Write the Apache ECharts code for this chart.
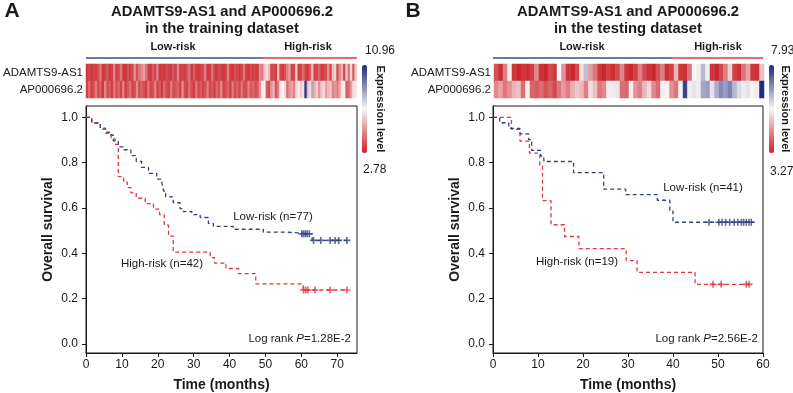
<!DOCTYPE html>
<html>
<head>
<meta charset="utf-8">
<script src="https://cdn.jsdelivr.net/npm/echarts@6/dist/echarts.min.js"></script>
<style>
  html, body { margin: 0; padding: 0; background: #fff; }
  #main { width: 793px; height: 393px; }
</style>
</head>
<body>
<div id="main"></div>
<script>
// ---- data ----
var geneNames = ['ADAMTS9-AS1', 'AP000696.2'];
var survTicks = [0, 0.2, 0.4, 0.6, 0.8, 1.0];
var timeTicksA = [0, 10, 20, 30, 40, 50, 60, 70];
var timeTicksB = [0, 10, 20, 30, 40, 50, 60];

// training dataset (A): 77 low-risk + 42 high-risk
var nLowA = 77, nHighA = 42;
var rangeA = [2.78, 10.96];
var pValueA = '1.28E-2';
var adamtsA = [
  3.2, 3.4, 3.1, 3.5, 3.3, 3.6, 4.5, 3.2, 3.3, 3.8, 3.2, 3.4, 4.6, 3.3, 3.6, 4.4, 3.2, 3.1, 3.7, 3.3,
  3.5, 5.0, 3.7, 4.3, 4.7, 5.2, 4.4, 3.3, 3.2, 3.9, 3.4, 4.6, 3.2, 3.3, 3.1, 3.6, 3.4, 3.2, 3.8, 3.3,
  4.8, 3.2, 3.5, 3.3, 3.7, 4.4, 3.2, 3.9, 3.3, 3.1, 3.4, 3.6, 4.6, 3.2, 3.3, 4.3, 3.4, 3.2, 3.6, 3.3,
  3.1, 3.5, 4.6, 3.3, 3.2, 3.7, 3.4, 3.2, 3.5, 4.4, 3.3, 3.2, 3.6, 3.3, 3.4, 3.2, 4.9,
  4.4, 5.9, 6.4, 5.6, 3.4, 3.6, 3.3, 5.8, 3.5, 3.3, 3.7, 4.6, 5.2, 3.4, 3.6, 6.0, 3.3, 3.5, 4.2, 3.4,
  3.2, 3.8, 5.7, 3.3, 3.5, 4.0, 3.2, 3.4, 3.6, 4.9, 3.5, 5.8, 6.2, 3.6, 4.8, 5.5, 3.5, 5.9, 4.4, 6.3,
  3.9, 6.1
];
var apA = [
  3.4, 4.2, 3.3, 3.7, 4.5, 3.5, 4.0, 3.2, 4.7, 3.6, 3.9, 3.3, 4.4, 3.6, 4.1, 3.4, 4.6, 3.3, 3.8, 4.3,
  3.4, 3.6, 4.8, 3.5, 4.0, 3.7, 3.3, 4.4, 3.5, 3.6, 4.6, 3.4, 3.9, 3.3, 4.2, 3.6, 3.4, 4.5, 3.5, 3.8,
  4.1, 3.3, 4.9, 3.6, 3.4, 4.3, 3.7, 3.3, 4.4, 3.5, 3.9, 3.4, 3.6, 4.6, 3.5, 3.8, 3.3, 4.2, 3.6, 4.7,
  3.4, 3.7, 4.1, 3.3, 4.5, 3.6, 4.0, 3.4, 4.4, 3.6, 3.5, 4.6, 3.8, 4.1, 3.6, 3.9, 5.0,
  6.6, 6.8, 4.0, 3.6, 5.0, 5.6, 3.8, 4.5, 6.5, 6.9, 6.3, 4.2, 4.9, 5.3, 4.6, 6.2, 6.7, 6.0, 6.5, 10.7,
  5.8, 6.4, 8.4, 5.5, 6.1, 4.9, 5.9, 6.4, 5.2, 5.6, 6.0, 4.7, 5.0, 4.6, 5.3, 6.5, 6.7, 3.9, 4.2, 5.1,
  6.3, 6.6
];
var kmLowA = [
  [0, 1], [1.6, 0.974], [4, 0.948], [5.5, 0.935], [6.5, 0.922], [7.6, 0.896], [9, 0.87], [10.5, 0.857],
  [12.5, 0.831], [14, 0.805], [15.5, 0.779], [17.4, 0.753], [19.7, 0.727], [21.1, 0.714], [21.6, 0.675],
  [22.2, 0.649], [24.3, 0.623], [26.2, 0.597], [27.1, 0.584], [29.5, 0.571], [31.8, 0.558], [34.1, 0.532],
  [35.5, 0.519], [41, 0.506], [49.4, 0.493], [56, 0.486], [63, 0.457], [72.7, 0.457]
];
var kmHighA = [
  [0, 1], [1.6, 0.976], [4, 0.952], [5.5, 0.929], [7, 0.905], [8.1, 0.881], [9, 0.738], [10.5, 0.714],
  [11.5, 0.69], [12.5, 0.667], [14, 0.643], [16.5, 0.619], [18.8, 0.595], [20.5, 0.571], [21.8, 0.524],
  [23, 0.476], [24.3, 0.405], [34.6, 0.381], [35.8, 0.357], [39, 0.333], [42.5, 0.31], [47.3, 0.265],
  [60.5, 0.238], [72.7, 0.238]
];
var censLowA = [
  [60.1, 0.486], [60.6, 0.486], [61.1, 0.486], [61.6, 0.486], [62.2, 0.486],
  [63.4, 0.457], [65.4, 0.457], [68, 0.457], [69.4, 0.457], [70.4, 0.457], [72.7, 0.457]
];
var censHighA = [[60.6, 0.238], [61.2, 0.238], [61.8, 0.238], [63.8, 0.238], [68, 0.238], [72.7, 0.238]];

// testing dataset (B): 41 low-risk + 19 high-risk
var nLowB = 41, nHighB = 19;
var rangeB = [3.27, 7.93];
var pValueB = '2.56E-2';
var adamtsB = [
  3.8, 3.4, 4.3, 5.5, 3.5, 3.3, 3.5, 3.4, 3.6, 4.4, 3.4, 3.3, 3.7, 3.5, 5.6, 4.5, 3.5, 3.3, 3.7, 5.3,
  6.2, 4.6, 4.2, 3.5, 3.3, 3.6, 3.4, 3.7, 4.4, 3.5, 3.3, 3.6, 4.3, 3.7, 3.4, 3.3, 3.8, 4.3, 3.4, 3.6,
  4.9, 3.5, 3.4, 4.2, 5.6, 5.5, 6.3, 5.7, 3.5, 3.3, 3.7, 4.3, 5.2, 3.6, 3.4, 4.2, 4.7, 3.5, 3.4, 5.0
];
var apB = [
  4.4, 4.7, 4.2, 4.5, 4.9, 5.0, 4.1, 5.5, 4.0, 3.9, 4.1, 3.8, 4.0, 3.7, 4.2, 4.6, 4.3, 4.8, 5.1, 4.9,
  4.3, 5.3, 5.0, 4.2, 4.4, 5.5, 5.7, 5.4, 4.1, 4.0, 5.5, 4.5, 4.3, 4.9, 5.3, 4.4, 4.1, 5.5, 5.6, 4.5,
  4.2, 5.6, 7.6, 5.7, 5.8, 5.7, 6.5, 6.6, 5.8, 6.4, 6.8, 6.6, 6.9, 6.3, 5.9, 5.7, 5.8, 5.6, 5.7, 7.9
];
var kmLowB = [
  [0, 1], [1.5, 0.976], [3.5, 0.951], [6, 0.927], [7.9, 0.902], [8.6, 0.854], [10.6, 0.829],
  [11.3, 0.805], [17.9, 0.756], [24.6, 0.683], [29.5, 0.659], [36.5, 0.634], [39.3, 0.586],
  [40, 0.537], [58, 0.537]
];
var kmHighB = [
  [0, 1], [4.1, 0.947], [6, 0.895], [8.1, 0.842], [10.4, 0.789], [11, 0.632], [12.9, 0.526],
  [15.9, 0.474], [19.1, 0.421], [29.6, 0.368], [32, 0.316], [44.9, 0.263], [57, 0.263]
];
var censLowB = [
  [48, 0.537], [50.2, 0.537], [50.9, 0.537], [51.7, 0.537], [52.6, 0.537], [53.6, 0.537],
  [54.4, 0.537], [55.2, 0.537], [55.7, 0.537], [56.3, 0.537], [56.9, 0.537], [57.4, 0.537]
];
var censHighB = [[48.9, 0.263], [50.7, 0.263], [56.3, 0.263], [56.9, 0.263]];

// ---- helpers ----
var FONT = '"Liberation Sans", Arial, Helvetica, sans-serif';
var INK = '#1a1a1a';
var RED = '#e0393e';
var BLUE = '#34437f';
var PLUS = 'path://M2.7,0H4.3V2.7H7V4.3H4.3V7H2.7V4.3H0V2.7H2.7Z';

function heatData(rows) {
  var res = [];
  rows.forEach(function (row, j) {
    row.forEach(function (v, i) {
      res.push([i, j, v]);
    });
  });
  return res;
}

function ids(n) {
  var res = [];
  for (var i = 0; i < n; i++) res.push('P' + (i + 1));
  return res;
}

function kmAxes(idx, maxT, ticks) {
  var x = {
    type: 'value', gridIndex: idx, min: 0, max: maxT,
    name: 'Time (months)', nameLocation: 'middle', nameGap: 25,
    nameTextStyle: { fontFamily: FONT, fontSize: 14, fontWeight: 'bold', color: INK },
    axisLine: { show: true, onZero: false, lineStyle: { color: INK } },
    axisTick: { show: true, length: 4, lineStyle: { color: INK }, customValues: ticks },
    axisLabel: { fontFamily: FONT, fontSize: 12, color: INK, margin: 6, customValues: ticks },
    splitLine: { show: false }
  };
  var y = {
    type: 'value', gridIndex: idx, min: -0.04, max: 1.05,
    name: 'Overall survival', nameLocation: 'middle', nameGap: 31,
    nameTextStyle: { fontFamily: FONT, fontSize: 14, fontWeight: 'bold', color: INK },
    axisLine: { show: true, onZero: false, lineStyle: { color: INK } },
    axisTick: { show: true, length: 4, lineStyle: { color: INK }, customValues: survTicks },
    axisLabel: {
      fontFamily: FONT, fontSize: 12, color: INK, margin: 8, customValues: survTicks,
      formatter: function (v) { return v.toFixed(1); }
    },
    splitLine: { show: false }
  };
  return [x, y];
}

function kmLine(data, color, axis) {
  return {
    type: 'line', xAxisIndex: axis, yAxisIndex: axis, data: data, step: 'end',
    symbol: 'none', silent: true,
    lineStyle: { color: color, width: 1.3, type: [4, 3] }
  };
}

function cens(data, color, axis) {
  return {
    type: 'scatter', xAxisIndex: axis, yAxisIndex: axis, data: data, silent: true,
    symbol: PLUS, symbolSize: 7, itemStyle: { color: color }, z: 3
  };
}

function txt(x, y, text, size, weight, align, extra) {
  var el = {
    type: 'text', x: x, y: y, silent: true,
    style: {
      text: text, fontFamily: FONT, fontSize: size, fontWeight: weight || 'normal', fill: INK,
      align: align || 'center', verticalAlign: 'middle',
      textAlign: align || 'center', textVerticalAlign: 'middle'
    }
  };
  if (extra) {
    for (var k in extra) el[k] = extra[k];
  }
  return el;
}

function logRank(x, y, p) {
  var el = txt(x, y, 'Log rank {i|P}=' + p, 11.5, 'normal', 'right');
  el.style.rich = { i: { fontStyle: 'italic', fontFamily: FONT, fontSize: 11.5, fill: INK } };
  return el;
}

function bar(x1, x2, y, color) {
  return { type: 'line', silent: true, shape: { x1: x1, y1: y, x2: x2, y2: y }, style: { stroke: color, lineWidth: 1.5 } };
}

var axA = kmAxes(0, 75.5, timeTicksA);
var axB = kmAxes(1, 60, timeTicksB);

var heatX = function (idx, n) {
  return { type: 'category', gridIndex: idx, data: ids(n), show: false };
};
var heatY = function (idx) {
  return {
    type: 'category', gridIndex: idx, data: geneNames, inverse: true,
    axisLine: { show: false }, axisTick: { show: false }, splitLine: { show: false },
    axisLabel: { fontFamily: FONT, fontSize: 11.5, color: INK, margin: 3 }
  };
};

var heatColors = ['#cc2229', '#f7f5f5', '#1b2a7a'];

var option = {
  animation: false,
  grid: [
    { left: 86, top: 106, width: 271, height: 247, show: true, borderColor: INK, borderWidth: 1, outerBoundsMode: 'none' },
    { left: 493, top: 106, width: 270, height: 247, show: true, borderColor: INK, borderWidth: 1, outerBoundsMode: 'none' },
    { left: 86, top: 64, width: 271, height: 34, outerBoundsMode: 'none' },
    { left: 494, top: 64, width: 270, height: 34, outerBoundsMode: 'none' }
  ],
  xAxis: [axA[0], axB[0], heatX(2, nLowA + nHighA), heatX(3, nLowB + nHighB)],
  yAxis: [axA[1], axB[1], heatY(2), heatY(3)],
  visualMap: [
    {
      type: 'continuous', seriesIndex: 8, dimension: 2, min: rangeA[0], max: rangeA[1],
      orient: 'vertical', left: 362, top: 65, itemWidth: 5, itemHeight: 88, padding: 0,
      calculable: false, hoverLink: false, inRange: { color: heatColors }
    },
    {
      type: 'continuous', seriesIndex: 9, dimension: 2, min: rangeB[0], max: rangeB[1],
      orient: 'vertical', left: 769, top: 65, itemWidth: 5, itemHeight: 88, padding: 0,
      calculable: false, hoverLink: false, inRange: { color: heatColors }
    }
  ],
  series: [
    kmLine(kmHighA, RED, 0),
    kmLine(kmLowA, BLUE, 0),
    cens(censHighA, RED, 0),
    cens(censLowA, BLUE, 0),
    kmLine(kmHighB, RED, 1),
    kmLine(kmLowB, BLUE, 1),
    cens(censHighB, RED, 1),
    cens(censLowB, BLUE, 1),
    { type: 'heatmap', xAxisIndex: 2, yAxisIndex: 2, data: heatData([adamtsA, apA]), silent: true, itemStyle: { borderWidth: 0 } },
    { type: 'heatmap', xAxisIndex: 3, yAxisIndex: 3, data: heatData([adamtsB, apB]), silent: true, itemStyle: { borderWidth: 0 } }
  ],
  graphic: [
    txt(12, 11, 'A', 21, 'bold'),
    txt(413, 11, 'B', 21, 'bold'),
    txt(222, 12, 'ADAMTS9-AS1 and AP000696.2', 14.8, 'bold'),
    txt(222, 29, 'in the training dataset', 14.8, 'bold'),
    txt(628, 12, 'ADAMTS9-AS1 and AP000696.2', 14.8, 'bold'),
    txt(628, 29, 'in the testing dataset', 14.8, 'bold'),
    txt(173, 47, 'Low-risk', 11, 'bold'),
    txt(308, 47, 'High-risk', 11, 'bold'),
    txt(582, 47, 'Low-risk', 11, 'bold'),
    txt(718, 47, 'High-risk', 11, 'bold'),
    bar(86, 262, 58, '#3a4a9a'),
    bar(262, 357, 58, '#e0393e'),
    bar(493, 672, 58, '#3a4a9a'),
    bar(672, 763, 58, '#e0393e'),
    txt(365, 51, rangeA[1].toFixed(2), 12, 'normal', 'left'),
    txt(363, 170, rangeA[0].toFixed(2), 12, 'normal', 'left'),
    txt(771, 51, rangeB[1].toFixed(2), 12, 'normal', 'left'),
    txt(770, 172, rangeB[0].toFixed(2), 12, 'normal', 'left'),
    txt(380, 109, 'Expression level', 11, 'bold', 'center', { rotation: -Math.PI / 2 }),
    txt(785, 109, 'Expression level', 11, 'bold', 'center', { rotation: -Math.PI / 2 }),
    txt(273, 217, 'Low-risk (n=' + nLowA + ')', 11.5),
    txt(162, 264, 'High-risk (n=' + nHighA + ')', 11.5),
    txt(703, 188, 'Low-risk (n=' + nLowB + ')', 11.5),
    txt(577, 262, 'High-risk (n=' + nHighB + ')', 11.5),
    logRank(351, 339, pValueA),
    logRank(758, 339, pValueB)
  ]
};

var chart = echarts.init(document.getElementById('main'));
chart.setOption(option);
</script>
</body>
</html>
